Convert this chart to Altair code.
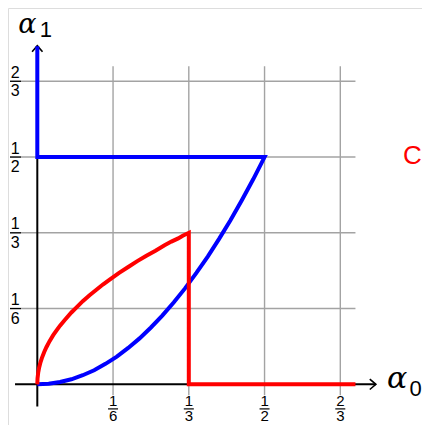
import altair as alt
import pandas as pd

# tick positions and fraction labels
ticks = [1/6, 1/3, 1/2, 2/3]
tick_num = ["1", "1", "1", "2"]
tick_den = ["6", "3", "2", "3"]

# blue path: top of y-axis down to (0,1/2), across to (1/2,1/2), curve down to origin
blue_x = [0.0, 0.0, 0.5, 0.475, 0.45, 0.425, 0.4, 0.375, 0.35, 0.325, 0.3, 0.275, 0.25,
          0.225, 0.2, 0.175, 0.15, 0.125, 0.1, 0.075, 0.05, 0.025, 0.0]
blue_y = [0.744, 0.5, 0.5, 0.451, 0.405, 0.361, 0.32, 0.281, 0.245, 0.211, 0.18, 0.151, 0.125,
          0.101, 0.08, 0.061, 0.045, 0.031, 0.02, 0.011, 0.005, 0.001, 0.0]

# red path: origin up the curve to (1/3,1/3), down, then along the x-axis
red_x = [0.0, 0.0005, 0.002, 0.004, 0.007, 0.01, 0.015, 0.02, 0.027, 0.035, 0.042, 0.05, 0.06,
         0.075, 0.088, 0.1, 0.115, 0.13, 0.145, 0.16, 0.18, 0.2, 0.22, 0.24, 0.26, 0.28, 0.295,
         0.31, 0.32, 1/3, 1/3, 0.7]
red_y = [0.0, 0.0129, 0.0258, 0.0365, 0.0483, 0.0577, 0.0707, 0.0816, 0.0949, 0.108, 0.118, 0.129,
         0.141, 0.158, 0.171, 0.183, 0.196, 0.208, 0.220, 0.231, 0.245, 0.258, 0.271, 0.283, 0.294,
         0.306, 0.314, 0.321, 0.327, 1/3, 0.0, 0.0]

grid_max = 0.7
axis_end = 0.745

XS = alt.Scale(domain=[-0.06447, 0.84642], nice=False, zero=False)
YS = alt.Scale(domain=[-0.08955, 0.82794], nice=False, zero=False)

def X(f="x"):
    return alt.X(f"{f}:Q", scale=XS, axis=None)

def Y(f="y"):
    return alt.Y(f"{f}:Q", scale=YS, axis=None)

grid_color = "#a3a3a3"

vgrid = alt.Chart(pd.DataFrame({"x": ticks, "y": [-0.024]*4, "y2": [grid_max]*4})).mark_rule(
    color=grid_color, strokeWidth=1.4).encode(x=X(), y=Y(), y2="y2:Q")
hgrid = alt.Chart(pd.DataFrame({"y": ticks, "x": [-0.06]*4, "x2": [grid_max]*4})).mark_rule(
    color=grid_color, strokeWidth=1.4).encode(y=Y(), x=X(), x2="x2:Q")

xaxis = alt.Chart(pd.DataFrame({"x": [-0.049], "x2": [axis_end], "y": [0.0]})).mark_rule(
    color="black", strokeWidth=2).encode(x=X(), x2="x2:Q", y=Y())
yaxis = alt.Chart(pd.DataFrame({"y": [-0.049], "y2": [axis_end], "x": [0.0]})).mark_rule(
    color="black", strokeWidth=2).encode(y=Y(), y2="y2:Q", x=X())

xarrow = alt.Chart(pd.DataFrame({"x": [axis_end], "y": [0.0]})).mark_point(
    shape="M-1,-0.85L0,0L-1,0.85", size=150, filled=False, color="black", strokeWidth=1.6, opacity=1
).encode(x=X(), y=Y())
yarrow = alt.Chart(pd.DataFrame({"x": [0.0], "y": [axis_end]})).mark_point(
    shape="M-0.85,1L0,0L0.85,1", size=150, filled=False, color="black", strokeWidth=1.6, opacity=1
).encode(x=X(), y=Y())

blue = alt.Chart(pd.DataFrame({"x": blue_x, "y": blue_y, "o": list(range(len(blue_x)))})).mark_line(
    color="#0000ff", strokeWidth=4, strokeJoin="miter", strokeCap="butt"
).encode(x=X(), y=Y(), order="o:Q")
red = alt.Chart(pd.DataFrame({"x": red_x, "y": red_y, "o": list(range(len(red_x)))})).mark_line(
    color="#ff0000", strokeWidth=4, strokeJoin="miter", strokeCap="butt"
).encode(x=X(), y=Y(), order="o:Q")

lab = pd.DataFrame({"t": ticks, "num": tick_num, "den": tick_den, "z": [0.0]*4})
font = "Liberation Sans"
fs = 16
fsx = 15

xnum = alt.Chart(lab).mark_text(font=font, fontSize=fsx, align="center", baseline="alphabetic", dy=21.3,
                                color="black").encode(x=X("t"), y=Y("z"), text="num:N")
xden = alt.Chart(lab).mark_text(font=font, fontSize=fsx, align="center", baseline="alphabetic", dy=37.2,
                                color="black").encode(x=X("t"), y=Y("z"), text="den:N")
xbar = alt.Chart(lab).mark_tick(orient="horizontal", size=10, thickness=1.2, yOffset=24.6,
                                color="black", opacity=1).encode(x=X("t"), y=Y("z"))

ynum = alt.Chart(lab).mark_text(font=font, fontSize=fs, align="center", baseline="alphabetic", dx=-22, dy=-3.5,
                                color="black").encode(x=X("z"), y=Y("t"), text="num:N")
yden = alt.Chart(lab).mark_text(font=font, fontSize=fs, align="center", baseline="alphabetic", dx=-22, dy=15,
                                color="black").encode(x=X("z"), y=Y("t"), text="den:N")
ybar = alt.Chart(lab).mark_tick(orient="horizontal", size=11, thickness=1.2, xOffset=-21.8,
                                color="black", opacity=1).encode(x=X("z"), y=Y("t"))

# axis names
ax_names = pd.DataFrame({"x": [0.0, axis_end], "y": [axis_end, 0.0]})
afont = "DejaVu Serif"
a1 = alt.Chart(ax_names.iloc[[0]]).mark_text(text="α", font=afont, fontStyle="italic", fontSize=27,
                                             align="left", baseline="alphabetic", dx=-19, dy=-12.9,
                                             color="black").encode(x=X(), y=Y())
a1s = alt.Chart(ax_names.iloc[[0]]).mark_text(text="1", font=font, fontSize=22,
                                              align="left", baseline="alphabetic", dx=2.5, dy=-8.2,
                                              color="black").encode(x=X(), y=Y())
a0 = alt.Chart(ax_names.iloc[[1]]).mark_text(text="α", font=afont, fontStyle="italic", fontSize=30,
                                             align="left", baseline="alphabetic", dx=11, dy=4,
                                             color="black").encode(x=X(), y=Y())
a0s = alt.Chart(ax_names.iloc[[1]]).mark_text(text="0", font=font, fontSize=22,
                                              align="left", baseline="alphabetic", dx=33.6, dy=11.4,
                                              color="black").encode(x=X(), y=Y())

ctext = alt.Chart(pd.DataFrame({"x": [0.5], "y": [0.5]})).mark_text(
    text="C", font=font, fontSize=26, align="left", baseline="alphabetic", dx=138.5, dy=7, color="#ff0000"
).encode(x=X(), y=Y())

chart = alt.layer(
    vgrid, hgrid, xaxis, yaxis, xarrow, yarrow, blue, red,
    xnum, xden, xbar, ynum, yden, ybar, a1, a1s, a0, a0s, ctext
).properties(
    width=414, height=417, autosize=alt.AutoSizeParams(type="none"), padding=0
).configure_view(stroke=None).configure(background="white")

chart.save("out.html", embed_options={"renderer": "svg", "actions": False})
